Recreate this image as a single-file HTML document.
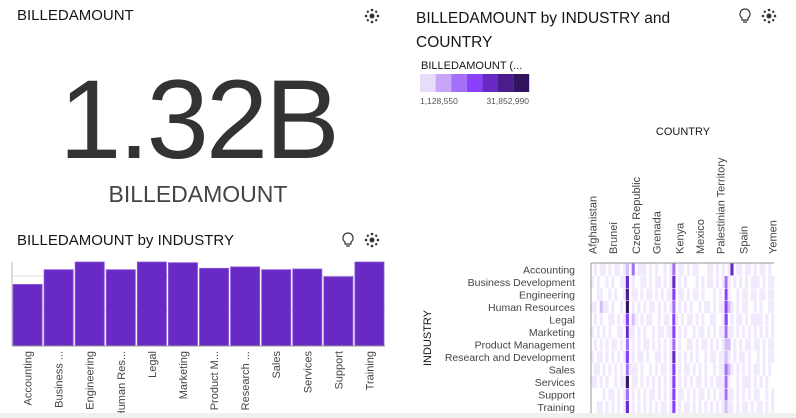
<!DOCTYPE html>
<html><head><meta charset="utf-8"><style>
body{margin:0;width:796px;height:418px;background:#fff;font-family:"Liberation Sans",sans-serif;overflow:hidden;position:relative;color:#161616}
.t{position:absolute;font-size:15px;color:#161616}
.ic{position:absolute}
</style></head><body>
<div class="t" style="left:17px;top:7px">BILLEDAMOUNT</div>
<svg class="ic" style="left:364px;top:8px" width="16" height="16"><g fill="#333"><circle cx="8" cy="8" r="2.5"/><circle cx="8" cy="2" r="1.3"/><circle cx="8" cy="14" r="1.3"/><circle cx="2" cy="8" r="1.3"/><circle cx="14" cy="8" r="1.3"/><circle cx="3.8" cy="3.8" r="1.2"/><circle cx="12.2" cy="3.8" r="1.2"/><circle cx="3.8" cy="12.2" r="1.2"/><circle cx="12.2" cy="12.2" r="1.2"/></g></svg>
<div style="position:absolute;left:0;width:396px;text-align:center;top:60px;font-size:112px;line-height:120px;color:#333;letter-spacing:-3px">1.32B</div>
<div style="position:absolute;left:0;width:396px;text-align:center;top:181px;font-size:23px;color:#444">BILLEDAMOUNT</div>

<div class="t" style="left:17px;top:232px">BILLEDAMOUNT by INDUSTRY</div>
<svg class="ic" style="left:341px;top:232px" width="14" height="16"><path d="M7 1a5 5 0 0 0-3 9v2h6v-2a5 5 0 0 0-3-9z M5 14h4" fill="none" stroke="#333" stroke-width="1.2"/></svg>
<svg class="ic" style="left:364px;top:232px" width="16" height="16"><g fill="#333"><circle cx="8" cy="8" r="2.5"/><circle cx="8" cy="2" r="1.3"/><circle cx="8" cy="14" r="1.3"/><circle cx="2" cy="8" r="1.3"/><circle cx="14" cy="8" r="1.3"/><circle cx="3.8" cy="3.8" r="1.2"/><circle cx="12.2" cy="3.8" r="1.2"/><circle cx="3.8" cy="12.2" r="1.2"/><circle cx="12.2" cy="12.2" r="1.2"/></g></svg>
<svg id="bar" style="position:absolute;left:0;top:0" width="400" height="418"></svg>

<div class="t" style="left:416px;top:7px;font-size:15.5px;line-height:24px;width:300px">BILLEDAMOUNT by INDUSTRY and COUNTRY</div>
<svg class="ic" style="left:738px;top:8px" width="14" height="16"><path d="M7 1a5 5 0 0 0-3 9v2h6v-2a5 5 0 0 0-3-9z M5 14h4" fill="none" stroke="#333" stroke-width="1.2"/></svg>
<svg class="ic" style="left:761px;top:8px" width="16" height="16"><g fill="#333"><circle cx="8" cy="8" r="2.5"/><circle cx="8" cy="2" r="1.3"/><circle cx="8" cy="14" r="1.3"/><circle cx="2" cy="8" r="1.3"/><circle cx="14" cy="8" r="1.3"/><circle cx="3.8" cy="3.8" r="1.2"/><circle cx="12.2" cy="3.8" r="1.2"/><circle cx="3.8" cy="12.2" r="1.2"/><circle cx="12.2" cy="12.2" r="1.2"/></g></svg>
<svg id="heat" style="position:absolute;left:0;top:0" width="796" height="418"></svg>
<div style="position:absolute;left:0;top:413px;width:796px;height:5px;background:#f0f0f0"></div>
<script>
const industries=["Accounting","Business Development","Engineering","Human Resources","Legal","Marketing","Product Management","Research and Development","Sales","Services","Support","Training"];
const barLabels=["Accounting","Business ...","Engineering","Human Res...","Legal","Marketing","Product M...","Research ...","Sales","Services","Support","Training"];
const barValues=[88,109,120,109,120,119,111,113,109,110,99,120];
const barTicks=[0,50,100];
const NS="http://www.w3.org/2000/svg";
function mk(p,tag,a){const e=document.createElementNS(NS,tag);for(const k in a)e.setAttribute(k,a[k]);p.appendChild(e);return e;}
(function(){
 const s=document.getElementById('bar');
 const x0=12,x1=385,y0=346;
 const yS=v=>y0-v*(35/50);
 const bw=(x1-x0)/barValues.length;
 barTicks.forEach(t=>{const l=mk(s,'line',{x1:x0,x2:x1,y1:yS(t),y2:yS(t),stroke:'#e0e0e0'});
 
 });
 const ax=mk(s,'line',{x1:x0,x2:x0,y1:262,y2:y0,stroke:'#bbb'});
 
 
 barValues.forEach((v,i)=>{
  const r=mk(s,'rect',{x:x0+i*bw+1,y:yS(v),width:bw-2,height:y0-yS(v),fill:'#6929c4',stroke:'#8a5cd8','stroke-width':0.8});
  
  
  const cx=x0+i*bw+bw/2+4;
  const t=mk(s,'text',{x:0,y:0,transform:`translate(${cx},351) rotate(-90)`,'text-anchor':'end','font-size':11,fill:'#444'});
  t.textContent=barLabels[i];
  
  
 });
 const b=mk(s,'line',{x1:x0,x2:x1,y1:y0,y2:y0,stroke:'#999'});
 
 
})();

const countries=["Afghanistan","Albania","Algeria","Argentina","Armenia","Austria","Belarus","Brunei","Bulgaria","Cameroon","Canada","Chile","China","Colombia","Croatia","Czech Republic","Denmark","Ecuador","Egypt","Finland","France","Greece","Grenada","Honduras","Hungary","India","Indonesia","Iran","Ireland","Japan","Kenya","Latvia","Lebanon","Lithuania","Luxembourg","Malaysia","Malta","Mexico","Mongolia","Morocco","Nepal","Nigeria","Norway","Pakistan","Palestinian Territory","Panama","Peru","Philippines","Poland","Portugal","Russia","Serbia","Spain","Sri Lanka","Sweden","Syria","Tanzania","Thailand","Tunisia","Ukraine","Uganda","Vietnam","Yemen"];
const labelIdx=[0,7,15,22,30,37,44,52,62];
const heatRows=[
"010110101101203011101010010130110101100011010101501101101011010",
"101001010011501001101011010150101000101011010131010101011101011",
"001100101001601101011010101140110101101000101041001011011011011",
"110211010010701010101101010130101010010110101142101011001010011",
"010100110101402101011001011041010110101001100140101101011110101",
"101010100110511010100101101140101001011010101131101010101010101",
"010101011010301010110101010130100110101101010122010101101101011",
"101101010101401011010011010150101010100101101121010110100101011",
"011010101010311101001010110140101101010100101132101010101101010",
"110101001011701101010101010140101010110101011131001011101010100",
"000010110101301010101101010140110101011010101131101010101100101",
"001101010101501010101010110140101101010101010121101011010110101"];
const heatLevels=["#ffffff","#f1e9fd","#d4bcf9","#a370f7","#8a3ffc","#6929c4","#491d8b","#31135e"];
const legendMin="1,128,550", legendMax="31,852,990";
(function(){
 const s=document.getElementById('heat');
 const lt=mk(s,'text',{x:421,y:69,'font-size':11,fill:'#161616'});lt.textContent="BILLEDAMOUNT (...";
 
 
 const legCols=["#e8dcfb","#c7a6f7","#a370f7","#8a3ffc","#6929c4","#491d8b","#31135e"];
 legCols.forEach((c,i)=>{const r=mk(s,'rect',{x:420+i*15.6,y:74,width:15.6,height:18,fill:c});
  
  });
 const a=mk(s,'text',{x:420,y:104,'font-size':8.5,fill:'#555'});a.textContent=legendMin;
 
 
 const bb=mk(s,'text',{x:529,y:104,'font-size':8.5,fill:'#555','text-anchor':'end'});bb.textContent=legendMax;
 
 
 const x0=591,x1=774,y0=263,y1=413;
 const cw=(x1-x0)/countries.length,rh=(y1-y0)/industries.length;
 industries.forEach((ind,r)=>{
  const row=heatRows[r]||"";
  countries.forEach((c,ci)=>{
   const v=+(row[ci]||0);
   if(v>0){const e=mk(s,'rect',{x:x0+ci*cw,y:y0+r*rh+0.5,width:cw+0.2,height:rh-0.5,fill:heatLevels[v]});
    
    }
  });
  const t=mk(s,'text',{x:575,y:y0+r*rh+rh/2+4,'text-anchor':'end','font-size':10.5,fill:'#444'});t.textContent=ind;
  
  
 });
 labelIdx.forEach(ci=>{
  const cx=x0+ci*cw+cw/2+4;
  const t=mk(s,'text',{transform:`translate(${cx},254) rotate(-90)`,'font-size':11,fill:'#444'});t.textContent=countries[ci];
  
  
 });
 const fr=mk(s,'path',{d:`M${x0} ${y0}H${x1}M${x0} ${y0}V${y1}`,stroke:'#999',fill:'none'});
 
 
 const xt=mk(s,'text',{x:683,y:135,'text-anchor':'middle','font-size':11,fill:'#161616'});xt.textContent="COUNTRY";
 
 
 const yt=mk(s,'text',{transform:'translate(431,338) rotate(-90)','text-anchor':'middle','font-size':11,fill:'#161616'});yt.textContent="INDUSTRY";
 
 
})();
</script>
</body></html>
